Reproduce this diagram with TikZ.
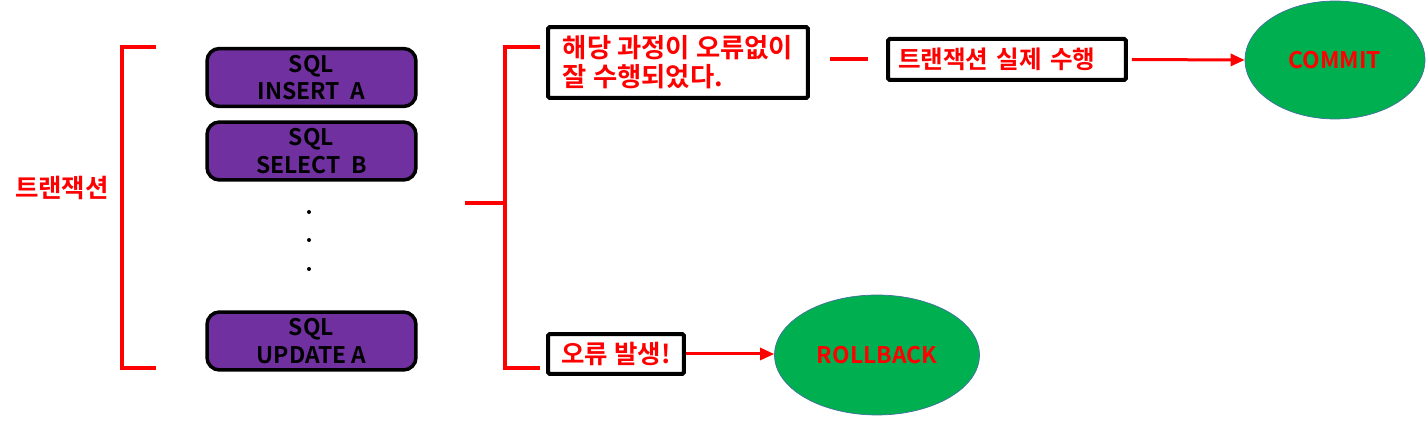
\documentclass[tikz,border=0pt]{standalone}
\usepackage{fontspec}
\setmainfont{Noto Sans CJK KR}[BoldFont={* Bold}]
\usetikzlibrary{shapes.geometric,arrows.meta}
\definecolor{sqlpurple}{HTML}{7030A0}
\definecolor{okgreen}{HTML}{00B050}
\definecolor{rimblue}{HTML}{41719C}

\begin{document}
\begin{tikzpicture}[x=0.02cm,y=-0.02cm]
        \tikzstyle{sql}=[draw=black, line width=0.07cm, fill=sqlpurple, rounded corners=0.25cm, minimum width=4.18cm, minimum height=1.16cm, align=center, inner sep=0pt, font=\bfseries\fontsize{13}{15.5}\selectfont]
        \tikzstyle{note}=[draw=black, line width=0.08cm, rounded corners=1pt, text=red, align=left, inner sep=0pt, font=\bfseries\fontsize{14.5}{16}\selectfont]
        \tikzstyle{fin}=[ellipse, draw=rimblue, fill=okgreen, text=red, inner sep=0pt, font=\bfseries\fontsize{13}{15}\selectfont]
        \tikzstyle{brace}=[red, line width=0.08cm]
        \tikzstyle{go}=[red, line width=0.06cm, -{Triangle[length=0.28cm,width=0.24cm]}]

        \useasboundingbox (0,0) rectangle (1428,425);

        \node[text=red, font=\bfseries\fontsize{14.5}{16}\selectfont] (tx) at (62,188) {트랜잭션};

        \node[sql] (ins) at (311.5,77.5) {SQL\\INSERT\ \ A};
        \node[sql] (sel) at (311.5,151) {SQL\\SELECT\ \ B};
        \node[sql] (upd) at (311.5,341) {SQL\\UPDATE A};
        \fill (309,212) circle (0.04cm);
        \fill (309,240) circle (0.04cm);
        \fill (309,269) circle (0.04cm);

        \draw[brace] (156,47) -- (122,47) -- (122,368) -- (156,368);
        \draw[brace] (465,203) -- (505,203);
        \draw[brace] (540,47) -- (505,47) -- (505,368) -- (540,368);

        \node[note, minimum width=5.2cm, minimum height=1.42cm, font=\bfseries\fontsize{15}{16.5}\selectfont] (ok) at (678,62.5) {해당 과정이 오류없이\\잘 수행되었다.};
        \node[note, minimum height=0.82cm, text width=4.36cm, inner xsep=0.2cm, font=\bfseries\fontsize{14}{16}\selectfont] (run) at (1007,59.5) {트랜잭션 실제 수행};
        \node[note, minimum width=2.72cm, minimum height=0.8cm] (err) at (616,354) {오류 발생!};

        \node[fin, minimum width=3.6cm, minimum height=2.36cm] (commit) at (1335,60) {COMMIT};
        \node[fin, minimum width=4.1cm, minimum height=2.4cm] (rollback) at (877,355) {ROLLBACK};

        \draw[brace, shorten <=0.4cm, shorten >=0.36cm] (ok.east |- run.west) -- (run.west);
        \draw[go, shorten <=0.08cm] (run.east) -- (commit.west);
        \draw[go] (err.east) -- (err.east -| rollback.west);
    \end{tikzpicture}
\end{document}
